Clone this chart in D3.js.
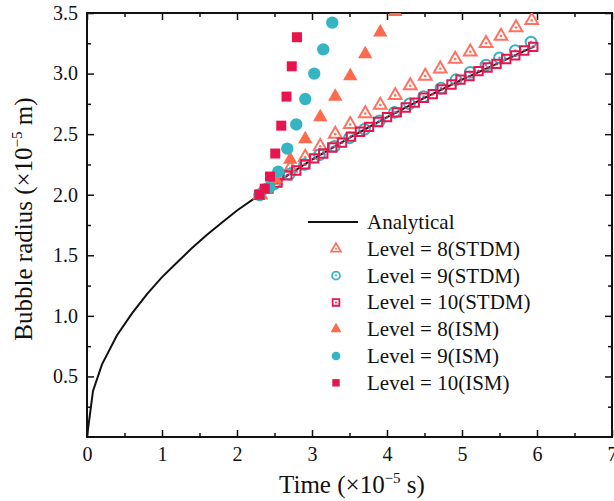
<!DOCTYPE html>
<html>
<head>
<meta charset="utf-8">
<script src="https://cdn.jsdelivr.net/npm/d3@7"></script>
<style>
  body { margin: 0; background: #fff; }
  text { font-family: "Liberation Serif", "Times New Roman", serif; fill: #111; }
</style>
</head>
<body>
<svg width="614" height="501"></svg>
<script>
// Analytical solution
const anaT = [0, 0.08, 0.2, 0.4, 0.6, 0.8, 1.0, 1.2, 1.4, 1.6, 1.8, 2.0, 2.3, 2.6, 3.0, 3.5, 4.0, 4.5, 5.0, 5.5, 5.95];
const anaR = [0, 0.38, 0.6, 0.84, 1.02, 1.18, 1.32, 1.44, 1.56, 1.67, 1.77, 1.87, 2.0, 2.13, 2.29, 2.47, 2.64, 2.80, 2.95, 3.09, 3.22];

// STDM
const stdm8T = [2.31, 2.51, 2.71, 2.91, 3.11, 3.31, 3.51, 3.71, 3.91, 4.11, 4.31, 4.51, 4.71, 4.91, 5.11, 5.32, 5.52, 5.72, 5.93];
const stdm8R = [2.00, 2.12, 2.22, 2.31, 2.40, 2.50, 2.58, 2.67, 2.74, 2.82, 2.90, 2.98, 3.04, 3.12, 3.18, 3.25, 3.31, 3.38, 3.44];
const stdm9T = [2.30, 2.50, 2.70, 2.90, 3.10, 3.30, 3.50, 3.70, 3.90, 4.10, 4.30, 4.49, 4.72, 4.92, 5.11, 5.32, 5.50, 5.71, 5.92];
const stdm9R = [2.00, 2.09, 2.17, 2.25, 2.33, 2.40, 2.47, 2.54, 2.61, 2.68, 2.75, 2.81, 2.88, 2.95, 3.01, 3.07, 3.13, 3.19, 3.26];
const stdm10T = [2.30, 2.42, 2.54, 2.67, 2.79, 2.91, 3.03, 3.15, 3.27, 3.40, 3.52, 3.64, 3.76, 3.88, 4.00, 4.13,
                 4.25, 4.37, 4.49, 4.61, 4.73, 4.86, 4.98, 5.10, 5.22, 5.34, 5.46, 5.59, 5.71, 5.83, 5.95];
const stdm10R = [2.00, 2.05, 2.10, 2.16, 2.20, 2.25, 2.30, 2.34, 2.39, 2.43, 2.48, 2.52, 2.56, 2.60, 2.64, 2.68,
                 2.72, 2.76, 2.80, 2.83, 2.87, 2.91, 2.95, 2.98, 3.02, 3.05, 3.08, 3.12, 3.15, 3.19, 3.22];

// ISM
const ism8T = [2.31, 2.51, 2.71, 2.91, 3.11, 3.31, 3.51, 3.71, 3.91, 4.11];
const ism8R = [2.00, 2.13, 2.29, 2.46, 2.64, 2.81, 2.98, 3.16, 3.34, 3.51];
const ism9T = [2.31, 2.43, 2.55, 2.67, 2.79, 2.91, 3.03, 3.15, 3.27];
const ism9R = [2.00, 2.06, 2.19, 2.38, 2.58, 2.79, 3.00, 3.20, 3.42];
const ism10T = [2.30, 2.37, 2.44, 2.51, 2.59, 2.66, 2.73, 2.80, 2.87];
const ism10R = [2.00, 2.05, 2.15, 2.34, 2.57, 2.81, 3.06, 3.30, 3.55];

const legendLabels = ["Analytical", "Level = 8(STDM)", "Level = 9(STDM)", "Level = 10(STDM)",
                      "Level = 8(ISM)", "Level = 9(ISM)", "Level = 10(ISM)"];
const xTicks = [0, 1, 2, 3, 4, 5, 6, 7];
const yTicks = [0.5, 1.0, 1.5, 2.0, 2.5, 3.0, 3.5];

const cTri = "#ff6a4f", cTriLight = "#ff7262", cCirc = "#35b4c1", cSq = "#e8144e";

const margin = {top: 13, right: 2, bottom: 64, left: 87},
      width = 614 - margin.left - margin.right,
      height = 501 - margin.top - margin.bottom;

const svg = d3.select("svg");
const g = svg.append("g").attr("transform", `translate(${margin.left},${margin.top})`);

const x = d3.scaleLinear().domain([0, 7]).range([0, width]);
const y = d3.scaleLinear().domain([0, 3.5]).range([height, 0]);

g.append("clipPath").attr("id", "clip")
  .append("rect").attr("width", width).attr("height", height);

// axes, ticks pointing inward
function styleAxis(sel) {
  sel.select(".domain").remove();
  sel.selectAll(".tick line").attr("stroke", "#111").attr("stroke-width", 1.5);
  sel.selectAll(".tick text").attr("font-size", 20).attr("font-family", "Liberation Serif");
}
const minorX = d3.range(0.5, 7, 1), minorY = d3.range(0.25, 3.5, 0.5);

g.append("g").attr("transform", `translate(0,${height})`)
  .call(d3.axisBottom(x).tickValues(xTicks).tickFormat(d3.format("d")).tickSize(-7).tickPadding(10))
  .call(styleAxis);
g.append("g").attr("transform", `translate(0,${height})`)
  .call(d3.axisBottom(x).tickValues(minorX).tickFormat("").tickSize(-4)).call(styleAxis);
g.append("g")
  .call(d3.axisTop(x).tickValues(xTicks).tickFormat("").tickSize(-7)).call(styleAxis);
g.append("g")
  .call(d3.axisTop(x).tickValues(minorX).tickFormat("").tickSize(-4)).call(styleAxis);

g.append("g")
  .call(d3.axisLeft(y).tickValues(yTicks).tickFormat(d3.format(".1f")).tickSize(-7).tickPadding(9))
  .call(styleAxis);
g.append("g")
  .call(d3.axisLeft(y).tickValues(minorY).tickFormat("").tickSize(-4)).call(styleAxis);
g.append("g").attr("transform", `translate(${width},0)`)
  .call(d3.axisRight(y).tickValues(yTicks).tickFormat("").tickSize(-7)).call(styleAxis);
g.append("g").attr("transform", `translate(${width},0)`)
  .call(d3.axisRight(y).tickValues(minorY).tickFormat("").tickSize(-4)).call(styleAxis);

g.append("rect").attr("width", width).attr("height", height)
  .attr("fill", "none").attr("stroke", "#111").attr("stroke-width", 2);

// axis titles
const xt = svg.append("text")
  .attr("x", 352).attr("y", 493).attr("text-anchor", "middle").attr("font-size", 25);
xt.append("tspan").text("Time (×10");
xt.append("tspan").text("−5").attr("font-size", 15).attr("dy", -10);
xt.append("tspan").text(" s)").attr("dy", 10);

const yt = svg.append("text")
  .attr("transform", "translate(32,219) rotate(-90)").attr("text-anchor", "middle").attr("font-size", 25);
yt.append("tspan").text("Bubble radius (×10");
yt.append("tspan").text("−5").attr("font-size", 15).attr("dy", -10);
yt.append("tspan").text(" m)").attr("dy", 10);

// data layer
const plot = g.append("g").attr("clip-path", "url(#clip)");

plot.append("path")
  .datum(d3.zip(anaT, anaR))
  .attr("fill", "none").attr("stroke", "#111").attr("stroke-width", 2)
  .attr("d", d3.line().x(d => x(d[0])).y(d => y(d[1])));

function hollow(ts, rs, type, size, color) {
  const pts = d3.zip(ts, rs);
  const grp = plot.append("g");
  grp.selectAll("path").data(pts).enter().append("path")
    .attr("transform", d => `translate(${x(d[0])},${y(d[1])})`)
    .attr("d", d3.symbol().type(type).size(size)())
    .attr("fill", "none").attr("stroke", color).attr("stroke-width", 2);
  grp.selectAll("circle").data(pts).enter().append("circle")
    .attr("cx", d => x(d[0])).attr("cy", d => y(d[1])).attr("r", 1.3)
    .attr("fill", color);
}
function filled(ts, rs, type, size, color) {
  plot.append("g").selectAll("path").data(d3.zip(ts, rs)).enter().append("path")
    .attr("transform", d => `translate(${x(d[0])},${y(d[1])})`)
    .attr("d", d3.symbol().type(type).size(size)())
    .attr("fill", color);
}

hollow(stdm8T, stdm8R, d3.symbolTriangle, 70, cTriLight);
hollow(stdm9T, stdm9R, d3.symbolCircle, 90, cCirc);
hollow(stdm10T, stdm10R, d3.symbolSquare, 70, cSq);
filled(ism8T, ism8R, d3.symbolTriangle, 90, cTri);
filled(ism9T, ism9R, d3.symbolCircle, 120, cCirc);
filled(ism10T, ism10R, d3.symbolSquare, 100, cSq);

// legend
const lg = svg.append("g").attr("transform", "translate(308,222)");
const rowH = 26.8;
const legendMarks = [
  {kind: "line"},
  {kind: "hollow", type: d3.symbolTriangle, size: 42, color: cTriLight},
  {kind: "hollow", type: d3.symbolCircle, size: 50, color: cCirc},
  {kind: "hollow", type: d3.symbolSquare, size: 45, color: cSq},
  {kind: "filled", type: d3.symbolTriangle, size: 52, color: cTri},
  {kind: "filled", type: d3.symbolCircle, size: 60, color: cCirc},
  {kind: "filled", type: d3.symbolSquare, size: 55, color: cSq}
];
legendLabels.forEach((lab, i) => {
  const row = lg.append("g").attr("transform", `translate(0,${i * rowH})`);
  const m = legendMarks[i];
  if (m.kind === "line") {
    row.append("line").attr("x1", 0).attr("x2", 50).attr("stroke", "#111").attr("stroke-width", 2);
  } else {
    const p = row.append("path").attr("transform", "translate(28,0)")
      .attr("d", d3.symbol().type(m.type).size(m.size)());
    if (m.kind === "hollow") {
      p.attr("fill", "none").attr("stroke", m.color).attr("stroke-width", 1.8);
      row.append("circle").attr("cx", 28).attr("r", 1).attr("fill", m.color);
    } else {
      p.attr("fill", m.color);
    }
  }
  row.append("text").attr("x", 59).attr("y", 7).attr("font-size", 21).text(lab);
});
</script>
</body>
</html>
